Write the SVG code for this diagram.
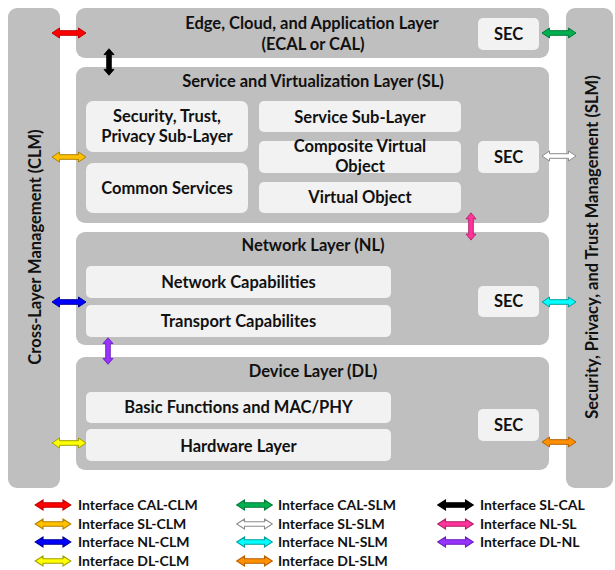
<svg xmlns="http://www.w3.org/2000/svg" xmlns:xlink="http://www.w3.org/1999/xlink" width="615" height="570" viewBox="0 0 615 570">
  <style>
    .band { fill: #bfbfbf; }
    .box { fill: #f2f2f2; }
    .t { font-family: Lato, "Open Sans", "Liberation Sans", sans-serif; font-weight: 700; font-size: 16.5px; fill: #111; text-anchor: middle; }
    .lg { font-family: Lato, "Open Sans", "Liberation Sans", sans-serif; font-weight: 700; font-size: 14px; fill: #111; }
    .arr { stroke-width: 1; stroke-linejoin: miter; }
  </style>
  <defs>
    <!-- double-headed block arrow, 34 long, centred on the origin -->
    <path id="dbl" d="M-17,0 L-9.5,-5 L-9.5,-2.3 L9.5,-2.3 L9.5,-5 L17,0 L9.5,5 L9.5,2.3 L-9.5,2.3 L-9.5,5 Z"/>
  </defs>
  <rect width="615" height="570" fill="#ffffff"/>

  <!-- side management bars -->
  <g id="clm">
    <rect class="band" x="8" y="8" width="52" height="480" rx="9"/>
    <text class="t" transform="translate(41,247) rotate(-90)">Cross-Layer Management (CLM)</text>
  </g>
  <g id="slm">
    <rect class="band" x="566" y="8" width="47" height="480" rx="9"/>
    <text class="t" transform="translate(598,247) rotate(-90)">Security, Privacy, and Trust Management (SLM)</text>
  </g>

  <!-- Edge, Cloud and Application Layer -->
  <g id="ecal">
    <rect class="band" x="76" y="8" width="473" height="50" rx="9"/>
    <text class="t" x="312" y="29">Edge, Cloud, and Application Layer</text>
    <text class="t" x="313" y="50">(ECAL or CAL)</text>
    <g id="ecal-sec">
      <rect class="box" x="478" y="18" width="61" height="32" rx="5"/>
      <text class="t" x="508.5" y="40">SEC</text>
    </g>
  </g>

  <!-- Service and Virtualization Layer -->
  <g id="sl">
    <rect class="band" x="76" y="67" width="473" height="156" rx="9"/>
    <text class="t" x="313" y="87">Service and Virtualization Layer (SL)</text>
    <g id="sl-security">
      <rect class="box" x="86" y="101" width="162" height="51" rx="7"/>
      <text class="t" x="167" y="122">Security, Trust,</text>
      <text class="t" x="167" y="142">Privacy Sub-Layer</text>
    </g>
    <g id="sl-common">
      <rect class="box" x="86" y="163" width="162" height="50" rx="7"/>
      <text class="t" x="167" y="194">Common Services</text>
    </g>
    <g id="sl-service">
      <rect class="box" x="259" y="101" width="202" height="31" rx="5"/>
      <text class="t" x="360" y="123">Service Sub-Layer</text>
    </g>
    <g id="sl-composite">
      <rect class="box" x="259" y="141" width="202" height="32" rx="5"/>
      <text class="t" x="360" y="152">Composite Virtual</text>
      <text class="t" x="360" y="172">Object</text>
    </g>
    <g id="sl-virtual">
      <rect class="box" x="259" y="182" width="202" height="31" rx="5"/>
      <text class="t" x="360" y="203">Virtual Object</text>
    </g>
    <g id="sl-sec">
      <rect class="box" x="478" y="141" width="61" height="32" rx="5"/>
      <text class="t" x="508.5" y="163">SEC</text>
    </g>
  </g>

  <!-- Network Layer -->
  <g id="nl">
    <rect class="band" x="76" y="232" width="473" height="113" rx="9"/>
    <text class="t" x="313" y="251">Network Layer (NL)</text>
    <g id="nl-network">
      <rect class="box" x="86" y="266" width="305" height="32" rx="5"/>
      <text class="t" x="238.5" y="288">Network Capabilities</text>
    </g>
    <g id="nl-transport">
      <rect class="box" x="86" y="305" width="305" height="32" rx="5"/>
      <text class="t" x="238.5" y="327">Transport Capabilites</text>
    </g>
    <g id="nl-sec">
      <rect class="box" x="478" y="286" width="61" height="31" rx="5"/>
      <text class="t" x="508.5" y="307">SEC</text>
    </g>
  </g>

  <!-- Device Layer -->
  <g id="dl">
    <rect class="band" x="76" y="357" width="473" height="113" rx="9"/>
    <text class="t" x="313" y="377">Device Layer (DL)</text>
    <g id="dl-basic">
      <rect class="box" x="86" y="392" width="305" height="31" rx="5"/>
      <text class="t" x="238.5" y="413">Basic Functions and MAC/PHY</text>
    </g>
    <g id="dl-hardware">
      <rect class="box" x="86" y="429" width="305" height="32" rx="5"/>
      <text class="t" x="238.5" y="452">Hardware Layer</text>
    </g>
    <g id="dl-sec">
      <rect class="box" x="478" y="409" width="61" height="32" rx="5"/>
      <text class="t" x="508.5" y="431">SEC</text>
    </g>
  </g>

  <!-- interfaces between layers and management bars -->
  <g id="connectors" class="arr">
    <use xlink:href="#dbl" transform="translate(69,33)" fill="#ff0000" stroke="#c00000"/>
    <use xlink:href="#dbl" transform="translate(69,157)" fill="#ffc000" stroke="#b08000"/>
    <use xlink:href="#dbl" transform="translate(69,302)" fill="#0000ff" stroke="#000099"/>
    <use xlink:href="#dbl" transform="translate(69,443)" fill="#ffff00" stroke="#a0a000"/>
    <use xlink:href="#dbl" transform="translate(559,33)" fill="#00b050" stroke="#007a38"/>
    <use xlink:href="#dbl" transform="translate(559,156)" fill="#ffffff" stroke="#8c8c8c"/>
    <use xlink:href="#dbl" transform="translate(559,302)" fill="#00ffff" stroke="#00a0a0"/>
    <use xlink:href="#dbl" transform="translate(559,442)" fill="#ff9000" stroke="#b86000"/>
    <use xlink:href="#dbl" transform="translate(109,62) rotate(90) scale(0.78,1)" fill="#000000" stroke="#000000"/>
    <use xlink:href="#dbl" transform="translate(471,226.5) rotate(90) scale(0.8,1)" fill="#ff3399" stroke="#b0206a"/>
    <use xlink:href="#dbl" transform="translate(108,351) rotate(90) scale(0.78,1)" fill="#9933ff" stroke="#6a1fb8"/>
  </g>

  <!-- legend -->
  <g id="legend">
    <g class="arr">
      <use xlink:href="#dbl" transform="translate(53,505) scale(1.05,1)" fill="#ff0000" stroke="#c00000"/>
      <use xlink:href="#dbl" transform="translate(53,524) scale(1.05,1)" fill="#ffc000" stroke="#b08000"/>
      <use xlink:href="#dbl" transform="translate(53,542) scale(1.05,1)" fill="#0000ff" stroke="#000099"/>
      <use xlink:href="#dbl" transform="translate(53,561) scale(1.05,1)" fill="#ffff00" stroke="#a0a000"/>
      <use xlink:href="#dbl" transform="translate(254.5,505) scale(1.05,1)" fill="#00b050" stroke="#007a38"/>
      <use xlink:href="#dbl" transform="translate(254.5,524) scale(1.05,1)" fill="#ffffff" stroke="#8c8c8c"/>
      <use xlink:href="#dbl" transform="translate(254.5,542) scale(1.05,1)" fill="#00ffff" stroke="#00a0a0"/>
      <use xlink:href="#dbl" transform="translate(254.5,561) scale(1.05,1)" fill="#ff9000" stroke="#b86000"/>
      <use xlink:href="#dbl" transform="translate(455.5,505) scale(1.05,1)" fill="#000000" stroke="#000000"/>
      <use xlink:href="#dbl" transform="translate(455.5,524) scale(1.05,1)" fill="#ff3399" stroke="#b0206a"/>
      <use xlink:href="#dbl" transform="translate(455.5,542) scale(1.05,1)" fill="#9933ff" stroke="#6a1fb8"/>
    </g>
    <text class="lg" x="78" y="510">Interface CAL-CLM</text>
    <text class="lg" x="78" y="529">Interface SL-CLM</text>
    <text class="lg" x="78" y="547">Interface NL-CLM</text>
    <text class="lg" x="78" y="566">Interface DL-CLM</text>
    <text class="lg" x="278" y="510">Interface CAL-SLM</text>
    <text class="lg" x="278" y="529">Interface SL-SLM</text>
    <text class="lg" x="278" y="547">Interface NL-SLM</text>
    <text class="lg" x="278" y="566">Interface DL-SLM</text>
    <text class="lg" x="480" y="510">Interface SL-CAL</text>
    <text class="lg" x="480" y="529">Interface NL-SL</text>
    <text class="lg" x="480" y="547">Interface DL-NL</text>
  </g>
</svg>
